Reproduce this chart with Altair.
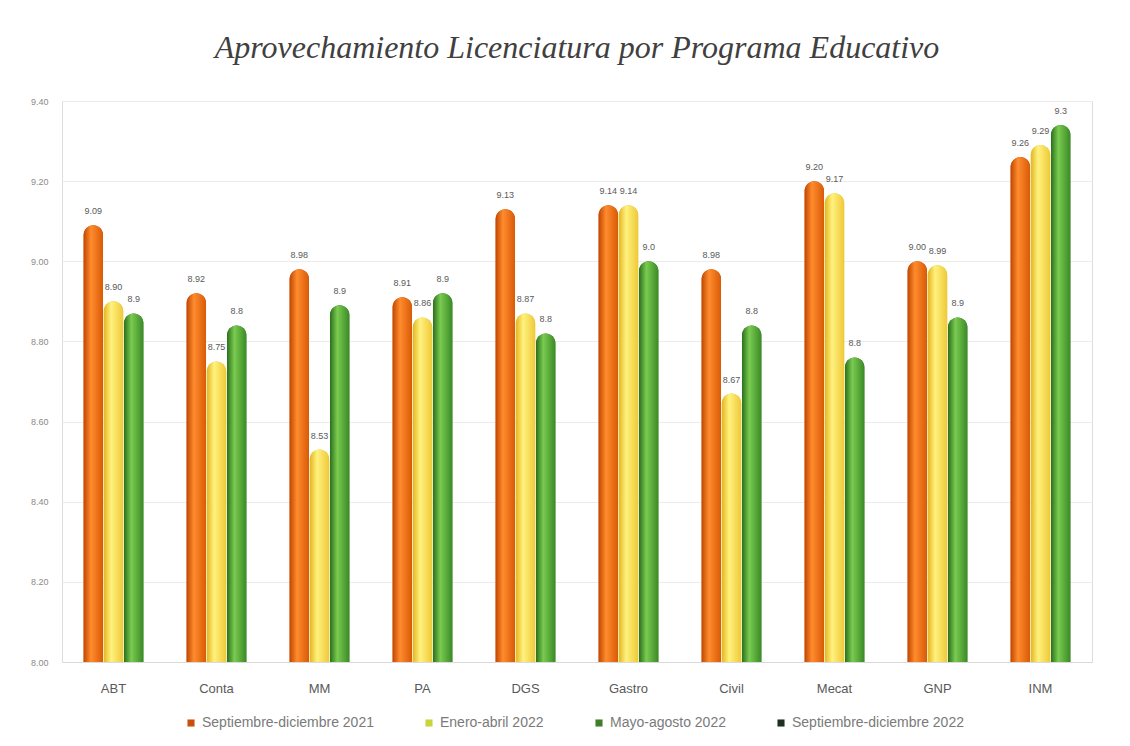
import altair as alt
import pandas as pd

programas = ["ABT", "Conta", "MM", "PA", "DGS", "Gastro", "Civil", "Mecat", "GNP", "INM"]
series = ["Septiembre-diciembre 2021", "Enero-abril 2022", "Mayo-agosto 2022", "Septiembre-diciembre 2022"]
sep_dic_2021 = [9.09, 8.92, 8.98, 8.91, 9.13, 9.14, 8.98, 9.20, 9.00, 9.26]
ene_abr_2022 = [8.90, 8.75, 8.53, 8.86, 8.87, 9.14, 8.67, 9.17, 8.99, 9.29]
may_ago_2022 = [8.87, 8.84, 8.89, 8.92, 8.82, 9.00, 8.84, 8.76, 8.86, 9.34]
y_ticks = [8.00, 8.20, 8.40, 8.60, 8.80, 9.00, 9.20, 9.40]

legend_colors = ["#c8500c", "#c9d43a", "#3f7f2a", "#1f2f1f"]
gradients = {
    series[0]: ["#c24600", "#ff8c2e", "#d95a06"],
    series[1]: ["#e6b521", "#fff27e", "#efc838"],
    series[2]: ["#2b6f1c", "#7acb50", "#3a8a27"],
}

rows = []
for s, vals in zip(series[:3], [sep_dic_2021, ene_abr_2022, may_ago_2022]):
    for p, v in zip(programas, vals):
        rows.append({"programa": p, "serie": s, "valor": v})
df = pd.DataFrame(rows)

FONT = "Liberation Sans"

x_enc = alt.X("programa:N", sort=programas, title=None,
              scale=alt.Scale(paddingInner=0.42, paddingOuter=0.21),
              axis=alt.Axis(labelAngle=0, labelFontSize=13, labelColor="#595959",
                            labelFont=FONT, labelPadding=20, ticks=False,
                            domainColor="#d9d9d9"))
xo_enc = alt.XOffset("serie:N", sort=series[:3],
                     scale=alt.Scale(domain=series[:3], paddingInner=0.04))
y_enc = alt.Y("valor:Q", title=None,
              scale=alt.Scale(domain=[8.0, 9.4], zero=False, nice=False),
              axis=alt.Axis(values=y_ticks, format=".2f", labelFontSize=9,
                            labelColor="#8a8a8a", labelFont=FONT, ticks=False,
                            domain=False, gridColor="#ececec", labelPadding=14))

base = alt.Chart(df).mark_bar(cornerRadiusTopLeft=10, cornerRadiusTopRight=10).encode(
    x=x_enc, xOffset=xo_enc, y=y_enc, y2=alt.datum(8.0),
    color=alt.Color("serie:N", scale=alt.Scale(domain=series, range=legend_colors),
                    legend=alt.Legend(title=None, orient="none", direction="horizontal",
                                      legendX=122, legendY=615,
                                      symbolType="square", symbolSize=50,
                                      labelFontSize=14, labelColor="#7a7a7a",
                                      labelLimit=400, labelFont=FONT, columnPadding=48)),
)

layers = [base]
for s in series[:3]:
    c = gradients[s]
    layers.append(
        alt.Chart(df).transform_filter(alt.datum.serie == s).mark_bar(
            cornerRadiusTopLeft=10, cornerRadiusTopRight=10,
            fill=alt.Gradient(gradient="linear", x1=0, x2=1, y1=0, y2=0,
                              stops=[alt.GradientStop(color=c[0], offset=0),
                                     alt.GradientStop(color=c[1], offset=0.38),
                                     alt.GradientStop(color=c[2], offset=1)]),
        ).encode(x=x_enc, xOffset=xo_enc, y=y_enc, y2=alt.datum(8.0))
    )

labels = alt.Chart(df).transform_calculate(
    etiqueta="datum.serie == 'Mayo-agosto 2022' ? format(datum.valor, '.1f') : format(datum.valor, '.2f')"
).mark_text(dy=-14, fontSize=9, color="#595959", font=FONT).encode(
    x=x_enc, xOffset=xo_enc, y=y_enc, text="etiqueta:N"
)
layers.append(labels)

chart = alt.layer(*layers).properties(
    width=1030, height=561,
    title=alt.Title("Aprovechamiento Licenciatura por Programa Educativo",
                    font="Liberation Serif", fontStyle="italic", fontWeight="normal",
                    fontSize=32, color="#404040", anchor="middle", offset=32),
    padding={"left": 22, "top": 24, "right": 10, "bottom": 10},
).configure_view(stroke=None).configure(background="white")

chart.save("out.html", embed_options={"renderer": "svg", "actions": False})
